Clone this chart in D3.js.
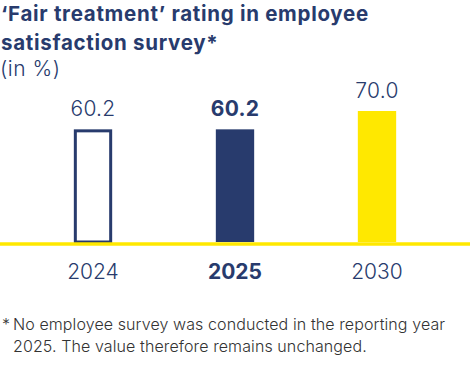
<!DOCTYPE html>
<html>
<head>
<meta charset="utf-8">
<script src="https://cdn.jsdelivr.net/npm/d3@7"></script>
<style>
  body { margin: 0; background: #fff; }
  svg { display: block; font-family: Inter, Roboto, "Noto Sans", sans-serif; }
</style>
</head>
<body>
<div id="chart"></div>
<script>
const years = ['2024', '2025', '2030'];
const values = [60.2, 60.2, 70.0];
const valueLabels = ['60.2', '60.2', '70.0'];
const titleLines = ['\u2018Fair treatment\u2019 rating in employee', 'satisfaction survey*'];
const unitLabel = '(in %)';
const footnoteLines = ['No employee survey was conducted in the reporting year', '2025. The value therefore remains unchanged.'];

const navy = '#283b6d';
const yellow = '#ffe800';
const W = 470, H = 377;
const baseY = 242;

const svg = d3.select('#chart').append('svg')
    .attr('width', W)
    .attr('height', H);

const x = d3.scaleBand().domain(years).range([0, W]).paddingInner(0.73).paddingOuter(0.52);
const y = d3.scaleLinear().domain([0, 70]).range([baseY, baseY - 131]);

// title
svg.append('g').selectAll('text')
    .data(titleLines)
    .enter().append('text')
    .attr('x', 1)
    .attr('y', (d, i) => 21 + i * 29)
    .attr('fill', navy)
    .style('font-size', '20.5px')
    .style('font-weight', 700)
    .style('letter-spacing', '0.7px')
    .text(d => d);

svg.append('text')
    .attr('x', 0)
    .attr('y', 76)
    .attr('fill', navy)
    .style('font-size', '21px')
    .style('font-weight', 300)
    .style('letter-spacing', '0.5px')
    .text(unitLabel);

// bars
const styles = [
    { fill: '#fff', stroke: navy },
    { fill: navy, stroke: 'none' },
    { fill: yellow, stroke: 'none' }
];

svg.selectAll('.bar')
    .data(years)
    .enter().append('rect')
    .attr('class', 'bar')
    .attr('x', (d, i) => x(d) + (i === 0 ? 1.5 : 0))
    .attr('y', (d, i) => y(values[i]) + (i === 0 ? 1.5 : 0))
    .attr('width', (d, i) => x.bandwidth() - (i === 0 ? 3 : 0))
    .attr('height', (d, i) => baseY - y(values[i]) - (i === 0 ? 1.5 : 0))
    .attr('fill', (d, i) => styles[i].fill)
    .attr('stroke', (d, i) => styles[i].stroke)
    .attr('stroke-width', 3);

// value labels
svg.selectAll('.val')
    .data(years)
    .enter().append('text')
    .attr('class', 'val')
    .attr('x', d => x(d) + x.bandwidth() / 2)
    .attr('y', (d, i) => y(values[i]) - 13)
    .attr('text-anchor', 'middle')
    .attr('fill', navy)
    .style('font-size', '21px')
    .style('font-weight', (d, i) => i === 1 ? 700 : 300)
    .style('letter-spacing', '0.3px')
    .text((d, i) => valueLabels[i]);

// baseline
svg.append('line')
    .attr('x1', 0).attr('x2', W)
    .attr('y1', baseY + 2).attr('y2', baseY + 2)
    .attr('stroke', yellow)
    .attr('stroke-width', 3.5);

// x axis labels
const xAxis = d3.axisBottom(x).tickSize(0).tickPadding(0);
const gx = svg.append('g')
    .attr('transform', `translate(0,${baseY + 37})`)
    .call(xAxis);
gx.select('.domain').remove();
gx.selectAll('text')
    .attr('dy', 0)
    .attr('fill', navy)
    .style('font-family', 'Inter, Roboto, "Noto Sans", sans-serif')
    .style('font-size', '21px')
    .style('font-weight', (d, i) => i === 1 ? 700 : 300);

// footnote
svg.append('text')
    .attr('x', 2)
    .attr('y', 330)
    .attr('fill', '#333')
    .style('font-size', '16px')
    .style('font-weight', 300)
    .text('*');

svg.append('g').selectAll('text')
    .data(footnoteLines)
    .enter().append('text')
    .attr('x', 13)
    .attr('y', (d, i) => 330 + i * 21.5)
    .attr('fill', '#333')
    .style('font-size', '16px')
    .style('font-weight', 300)
    .style('letter-spacing', '0.1px')
    .text(d => d);
</script>
</body>
</html>
